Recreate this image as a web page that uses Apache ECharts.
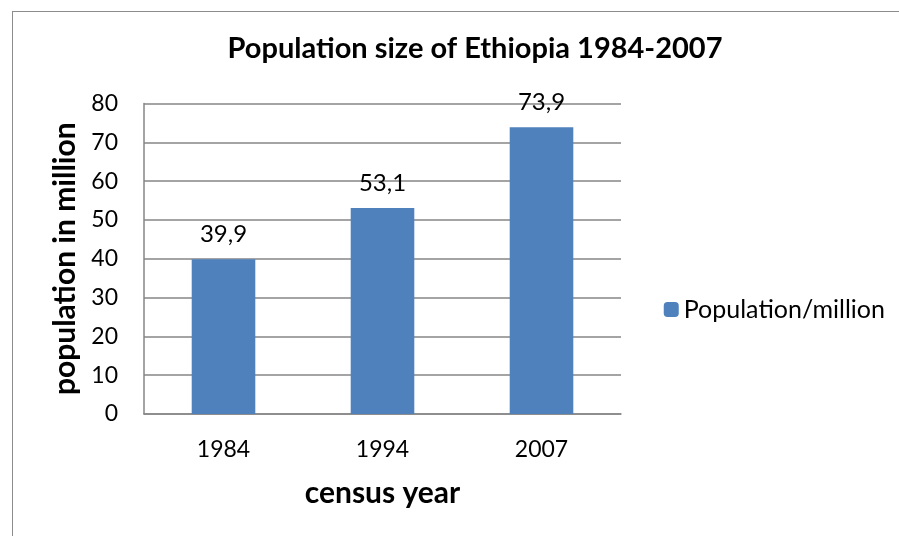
<!DOCTYPE html>
<html><head><meta charset="utf-8">
<script src="https://cdn.jsdelivr.net/npm/echarts@6/dist/echarts.min.js"></script>
<style>html,body{margin:0;padding:0;background:#fff}#c{width:899px;height:536px;position:relative}
#frame{position:absolute;left:12px;top:11px;width:900px;height:600px;border:1.5px solid #8c8c8c;box-sizing:border-box;pointer-events:none}</style>
</head><body><div id="c"></div><div id="frame"></div>
<script>
const categories = ['1984', '1994', '2007'];
const population = [39.9, 53.1, 73.9];
const seriesName = 'Population/million';
const FONT = 'Lato, Calibri, "Noto Sans", sans-serif';
const chart = echarts.init(document.getElementById('c'));
chart.setOption({
  animation: false,
  backgroundColor: '#fff',
  title: { text: 'Population size of Ethiopia 1984-2007', left: 470, top: 29, textAlign: 'center',
    textStyle: { fontFamily: FONT, fontSize: 29, fontWeight: 'bold', color: '#000' } },
  legend: { right: 9, top: 292, itemWidth: 15, itemHeight: 15, itemGap: 6,
    textStyle: { fontFamily: FONT, fontSize: 25, color: '#000' }, data: [seriesName] },
  grid: { left: 144, top: 103.5, width: 477, height: 310.5, containLabel: false },
  xAxis: { type: 'category', data: categories,
    name: 'census year', nameLocation: 'middle', nameGap: 64,
    nameTextStyle: { fontFamily: FONT, fontSize: 30, fontWeight: 'bold', color: '#000' },
    axisLine: { lineStyle: { color: '#868686', width: 1.5 } }, axisTick: { show: false },
    axisLabel: { fontFamily: FONT, fontSize: 23, color: '#000', margin: 24 } },
  yAxis: { type: 'value', min: 0, max: 80, interval: 10,
    name: 'population in million', nameLocation: 'middle', nameGap: 62,
    nameTextStyle: { fontFamily: FONT, fontSize: 30, fontWeight: 'bold', color: '#000' },
    axisLine: { show: true, lineStyle: { color: '#868686', width: 1.5 } }, axisTick: { show: false },
    splitLine: { lineStyle: { color: '#868686', width: 1.5 } },
    axisLabel: { fontFamily: FONT, fontSize: 23, color: '#000', margin: 26 } },
  series: [{ name: seriesName, type: 'bar', data: population, barWidth: '40%',
    itemStyle: { color: '#4f81bd' },
    label: { show: true, position: 'top', distance: 13, fontFamily: FONT, fontSize: 24, color: '#000',
      formatter: p => p.value.toFixed(1).replace('.', ',') } }]
});
</script></body></html>
